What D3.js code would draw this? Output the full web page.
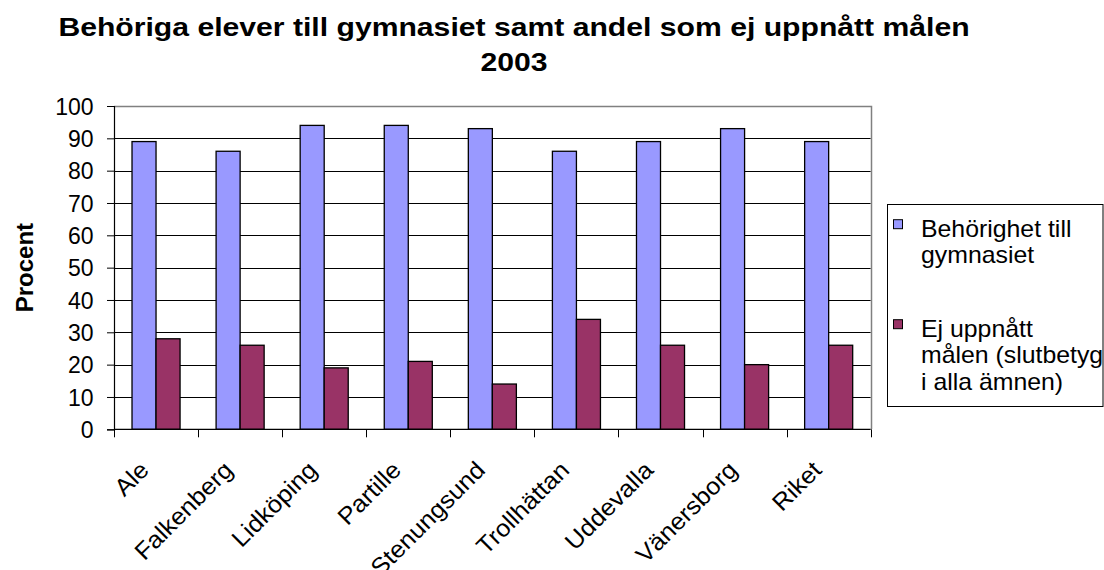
<!DOCTYPE html>
<html><head><meta charset="utf-8">
<script src="https://cdn.jsdelivr.net/npm/d3@7"></script>
<style>
html,body{margin:0;padding:0;background:#fff;}
svg{display:block;font-family:"Liberation Sans",Arial,sans-serif;}
</style></head>
<body>
<svg id="chart" width="1104" height="570"></svg>
<script>
const categories = ["Ale","Falkenberg","Lidköping","Partille","Stenungsund","Trollhättan","Uddevalla","Vänersborg","Riket"];
const behorighet = [89,86,94,94,93,86,89,93,89];
const ejUppnatt = [28,26,19,21,14,34,26,20,26];
const seriesNames = ["Behörighet till gymnasiet","Ej uppnått målen (slutbetyg i alla ämnen)"];
const legendLines = [["Behörighet till","gymnasiet"],["Ej uppnått","målen (slutbetyg","i alla ämnen)"]];
const yTicks = [0,10,20,30,40,50,60,70,80,90,100];
const titleLines = ["Behöriga elever till gymnasiet samt andel som ej uppnått målen","2003"];
const yLabel = "Procent";
const colors = ["#9999FF","#993366"];

const svg = d3.select("#chart");
const L = 114, R = 870.7, T = 106, B = 429.3;

const x = d3.scaleBand().domain(categories).range([L, R]).paddingInner(0).paddingOuter(0);
const y = d3.scaleLinear().domain([0,100]).range([B, T]);
const bw = x.bandwidth();
const barW = bw / 3.5;
const x1 = d3.scaleBand().domain([0,1]).range([(bw - 2*barW)/2, (bw - 2*barW)/2 + 2*barW]).padding(0);

// gridlines
svg.append("g").selectAll("line").data(yTicks.filter(d => d > 0 && d < 100)).join("line")
  .attr("x1", L).attr("x2", R)
  .attr("y1", d => Math.round(y(d)) + 0.5).attr("y2", d => Math.round(y(d)) + 0.5)
  .attr("stroke", "#000").attr("stroke-width", 1);

// plot border (top and right gray)
svg.append("path")
  .attr("d", `M${L},${Math.round(T)+0.5}H${Math.round(R)+0.5}V${Math.round(B)}`)
  .attr("fill","none").attr("stroke","#808080").attr("stroke-width",1.5);

// bars
const series = [behorighet, ejUppnatt];
series.forEach((vals, si) => {
  svg.append("g").selectAll("rect").data(vals).join("rect")
    .attr("x", (d,i) => x(categories[i]) + x1(si))
    .attr("y", d => y(d))
    .attr("width", x1.bandwidth())
    .attr("height", d => y(0) - y(d))
    .attr("fill", colors[si])
    .attr("stroke", "#000").attr("stroke-width", 1.3);
});

// y axis
const yAxis = d3.axisLeft(y).tickValues(yTicks).tickSize(7).tickPadding(0).tickFormat(d3.format("d"));
const gy = svg.append("g").attr("transform", `translate(${L},0)`).call(yAxis);
gy.attr("font-size", null).attr("font-family", null);
gy.select(".domain").attr("stroke","#000").attr("stroke-width",1.2);
gy.selectAll(".tick line").attr("stroke","#000");
gy.selectAll(".tick text").attr("font-size", 23).attr("fill","#000")
  .attr("x", -20.5).attr("dy","0.36em")
  .attr("text-anchor","end");

// x axis with ticks at band boundaries
const bounds = categories.map(c => x(c)).concat([R]);
svg.append("line").attr("x1", L).attr("x2", R).attr("y1", B).attr("y2", B)
  .attr("stroke","#000").attr("stroke-width",1.2);
svg.append("g").selectAll("line").data(bounds).join("line")
  .attr("x1", d => Math.round(d)+0.5).attr("x2", d => Math.round(d)+0.5)
  .attr("y1", B).attr("y2", B + 8).attr("stroke","#000").attr("stroke-width",1);
svg.append("g").selectAll("text").data(categories).join("text")
  .attr("transform", d => `translate(${x(d) + bw/2 - 18},${B + 30}) rotate(-45) scale(1.06,1)`)
  .attr("text-anchor","end").attr("dy","0.72em")
  .attr("font-size", 24).attr("fill","#000")
  .text(d => d);

// title
svg.append("g").selectAll("text").data(titleLines).join("text")
  .attr("transform", (d,i) => `translate(514,${35.7 + i*35.3}) scale(1.16,1)`)
  .attr("text-anchor","middle").attr("font-size", 26).attr("font-weight","bold").attr("fill","#000")
  .text(d => d);

// y label
svg.append("text")
  .attr("transform", `translate(33,${(T+B)/2}) rotate(-90)`)
  .attr("text-anchor","middle").attr("font-size", 24).attr("font-weight","bold").attr("fill","#000")
  .text(yLabel);

// legend
const lg = svg.append("g");
lg.append("rect").attr("x", 887.5).attr("y", 204.5).attr("width", 215.5).attr("height", 202)
  .attr("fill","#fff").attr("stroke","#000").attr("stroke-width",1);
const legendY = [236.7, 336.7];
legendLines.forEach((lines, si) => {
  lg.append("rect").attr("x", 893.5).attr("y", legendY[si] - 17).attr("width", 9).attr("height", 9)
    .attr("fill", colors[si]).attr("stroke","#000").attr("stroke-width",1);
  lg.append("g").selectAll("text").data(lines).join("text")
    .attr("transform", (d,i) => `translate(921,${legendY[si] + i*26.5}) scale(1.08,1)`)
    .attr("font-size", 23).attr("fill","#000")
    .text(d => d);
});
</script>
</body></html>
